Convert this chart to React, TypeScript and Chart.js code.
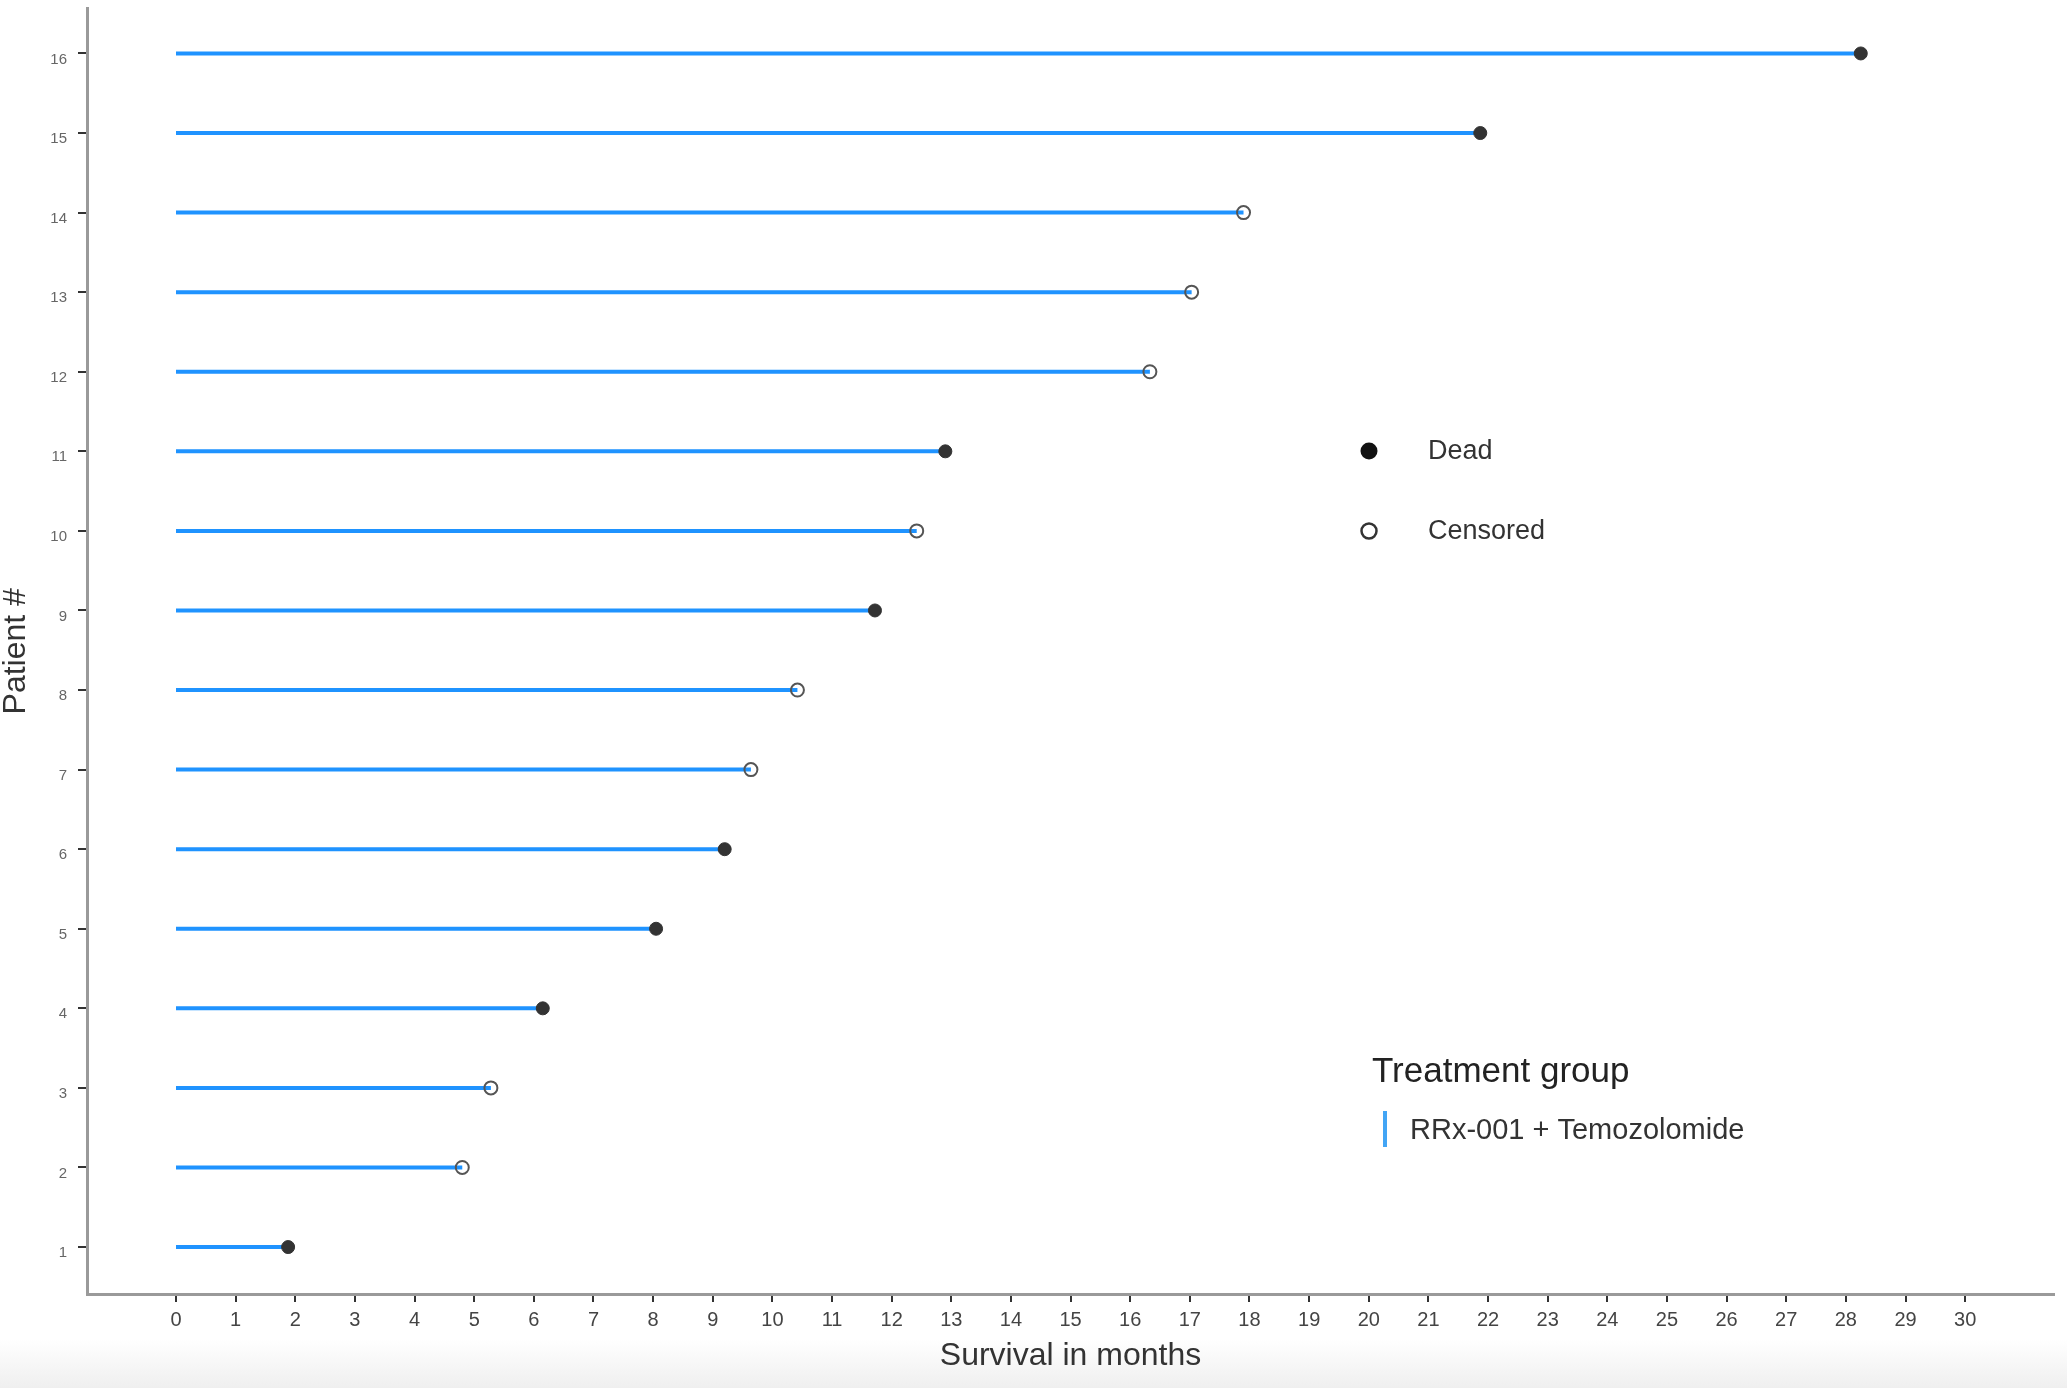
import React, { useEffect, useRef } from "react";
import { Chart, registerables } from "chart.js";

Chart.register(...registerables);

// ---- Data ----
const patientIds = [1, 2, 3, 4, 5, 6, 7, 8, 9, 10, 11, 12, 13, 14, 15, 16];
const survivalMonths = [1.88, 4.8, 5.28, 6.15, 8.05, 9.2, 9.64, 10.42, 11.72, 12.42, 12.9, 16.33, 17.03, 17.9, 21.87, 28.25];
const patientStatus = [
  "Dead", "Censored", "Censored", "Dead", "Dead", "Dead", "Censored", "Censored",
  "Dead", "Censored", "Dead", "Censored", "Censored", "Censored", "Dead", "Dead",
];
const xTickValues = Array.from({ length: 31 }, (_, i) => i);
const yTickValues = patientIds;
const treatmentGroup = "RRx-001 + Temozolomide";

const FONT = "'Liberation Sans', Arial, Helvetica, sans-serif";

const legendPlugin = {
  id: "customLegend",
  afterDraw(chart: any) {
    const ctx = chart.ctx as CanvasRenderingContext2D;
    ctx.save();
    ctx.textBaseline = "middle";
    ctx.textAlign = "left";
    // Dead
    ctx.fillStyle = "#111";
    ctx.beginPath();
    ctx.arc(1369, 451, 8.5, 0, Math.PI * 2);
    ctx.fill();
    ctx.fillStyle = "#333";
    ctx.font = `27px ${FONT}`;
    ctx.fillText("Dead", 1428, 452);
    // Censored
    ctx.strokeStyle = "#333";
    ctx.lineWidth = 2.5;
    ctx.beginPath();
    ctx.arc(1369, 531, 7.5, 0, Math.PI * 2);
    ctx.stroke();
    ctx.fillText("Censored", 1428, 532);
    // Treatment group
    ctx.fillStyle = "#222";
    ctx.font = `35px ${FONT}`;
    ctx.fillText("Treatment group", 1372, 1072);
    ctx.fillStyle = "#42a5f5";
    ctx.fillRect(1383, 1111, 4, 36);
    ctx.fillStyle = "#333";
    ctx.font = `29px ${FONT}`;
    ctx.fillText(treatmentGroup, 1410, 1131);
    ctx.restore();
  },
};

export default function App() {
  const canvasRef = useRef<HTMLCanvasElement | null>(null);

  useEffect(() => {
    document.body.style.margin = "0";
    document.body.style.overflow = "hidden";
    if (!canvasRef.current) return;

    const lineData: any[] = [];
    patientIds.forEach((id, i) => {
      lineData.push({ x: 0, y: id });
      lineData.push({ x: survivalMonths[i], y: id });
      lineData.push({ x: survivalMonths[i], y: null });
    });
    const deadData = patientIds
      .map((id, i) => ({ x: survivalMonths[i], y: id, s: patientStatus[i] }))
      .filter((d) => d.s === "Dead");
    const censData = patientIds
      .map((id, i) => ({ x: survivalMonths[i], y: id, s: patientStatus[i] }))
      .filter((d) => d.s === "Censored");

    const chart = new Chart(canvasRef.current, {
      type: "line",
      data: {
        datasets: [
          {
            label: "Dead",
            type: "scatter",
            data: deadData,
            pointStyle: "circle",
            pointRadius: 6.5,
            pointBackgroundColor: "#333",
            pointBorderColor: "#333",
            pointBorderWidth: 1,
            order: 1,
          } as any,
          {
            label: "Censored",
            type: "scatter",
            data: censData,
            pointStyle: "circle",
            pointRadius: 6.5,
            pointBackgroundColor: "rgba(0,0,0,0)",
            pointBorderColor: "#555",
            pointBorderWidth: 2,
            order: 2,
          } as any,
          {
            label: treatmentGroup,
            type: "line",
            data: lineData,
            borderColor: "#1f93ff",
            borderWidth: 4,
            pointRadius: 0,
            spanGaps: false,
            fill: false,
            order: 3,
          } as any,
        ],
      },
      options: {
        animation: false,
        responsive: true,
        maintainAspectRatio: false,
        parsing: true,
        layout: { padding: { top: 7, right: 13, left: 0, bottom: 0 } },
        plugins: {
          legend: { display: false },
          tooltip: { enabled: false },
        },
        scales: {
          x: {
            type: "linear",
            min: -1.4925,
            max: 31.49,
            afterBuildTicks: (scale: any) => {
              scale.ticks = xTickValues.map((v) => ({ value: v }));
            },
            afterFit: (scale: any) => {
              scale.height = 94;
              scale.paddingLeft = 0;
              scale.paddingRight = 0;
            },
            grid: {
              display: true,
              drawOnChartArea: false,
              drawTicks: true,
              tickLength: 8,
              color: "#333",
              lineWidth: 2,
            },
            border: { display: true, color: "#9a9a9a", width: 3 },
            ticks: {
              color: "#444",
              font: { family: FONT, size: 20 },
              padding: 6,
              maxRotation: 0,
              autoSkip: false,
            },
            title: {
              display: true,
              text: "Survival in months",
              color: "#333",
              font: { family: FONT, size: 32, lineHeight: 1.2 },
              padding: { top: 0, bottom: 13 },
            },
          },
          y: {
            type: "linear",
            min: 0.41,
            max: 16.565,
            afterBuildTicks: (scale: any) => {
              scale.ticks = yTickValues.map((v) => ({ value: v }));
            },
            afterFit: (scale: any) => {
              scale.width = 87;
              scale.paddingTop = 0;
              scale.paddingBottom = 0;
            },
            grid: {
              display: true,
              drawOnChartArea: false,
              drawTicks: true,
              tickLength: 9,
              color: "#333",
              lineWidth: 2,
            },
            border: { display: true, color: "#9a9a9a", width: 3 },
            ticks: {
              color: "#666",
              font: { family: FONT, size: 15 },
              padding: 11,
              labelOffset: 6,
              autoSkip: false,
            },
            title: {
              display: true,
              text: "Patient #",
              color: "#333",
              font: { family: FONT, size: 32, lineHeight: 1 },
              padding: { top: 0, bottom: 0 },
            },
          },
        },
      },
      plugins: [legendPlugin],
    });

    return () => {
      chart.destroy();
    };
  }, []);

  return (
    <div
      style={{
        width: 2067,
        height: 1388,
        position: "relative",
        background: "linear-gradient(to bottom, #ffffff 0%, #ffffff 96.5%, #efefef 100%)",
      }}
    >
      <canvas ref={canvasRef} />
    </div>
  );
}
